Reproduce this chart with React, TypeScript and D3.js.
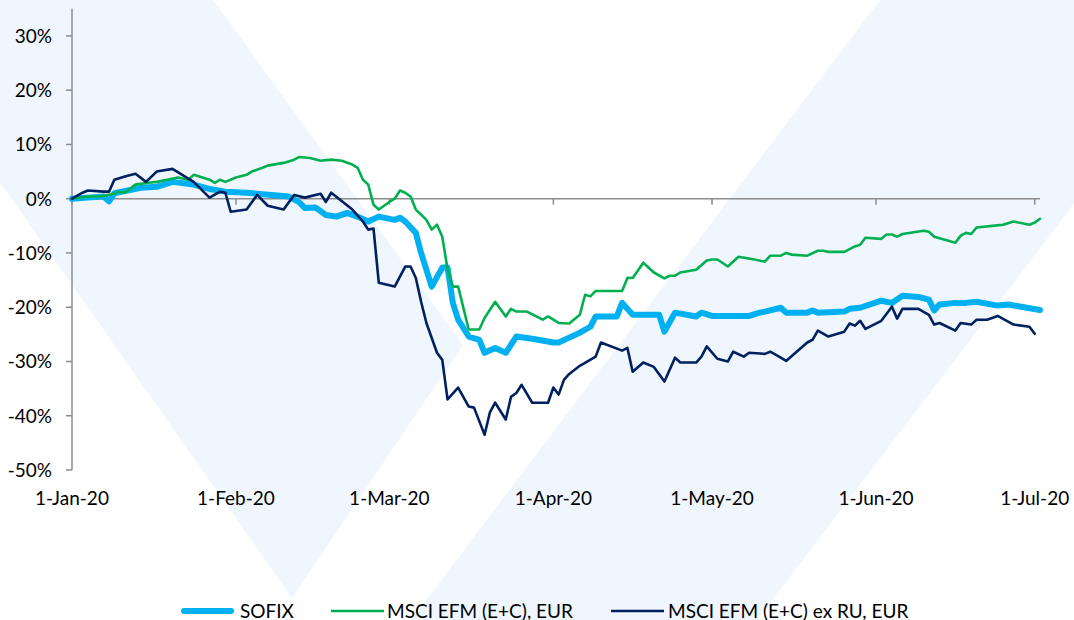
import React from "react";
import * as d3 from "d3";

const W = 1074;
const H = 620;

const xTickDates = ["2020-01-01", "2020-02-01", "2020-03-01", "2020-04-01", "2020-05-01", "2020-06-01", "2020-07-01"];
const yTickValues = [30, 20, 10, 0, -10, -20, -30, -40, -50];
const seriesNames = ["SOFIX", "MSCI EFM (E+C), EUR", "MSCI EFM (E+C) ex RU, EUR"];
const seriesColors = ["#00B0F0", "#00B050", "#002060"];
const seriesWidths = [6, 2.6, 2.6];

// [MM-DD of 2020, % change]
const sofix: [string, number][] = [
  ["01-01", 0], ["01-04", 0.2], ["01-07", 0.4], ["01-08", -0.5], ["01-09", 1.0], ["01-14", 2.0], ["01-17", 2.2],
  ["01-20", 3.1], ["01-24", 2.6], ["01-27", 1.8], ["01-30", 1.3], ["02-03", 1.1], ["02-11", 0.4], ["02-13", -0.7],
  ["02-14", -1.7], ["02-16", -1.6], ["02-18", -3.0], ["02-20", -3.3], ["02-22", -2.6], ["02-24", -3.3], ["02-26", -4.2],
  ["02-28", -3.3], ["03-02", -3.9], ["03-03", -3.5], ["03-04", -4.2], ["03-06", -6.3], ["03-07", -10], ["03-09", -16.2],
  ["03-11", -12.7], ["03-12", -12.7], ["03-13", -19.2], ["03-14", -22.3], ["03-16", -25.4], ["03-18", -26],
  ["03-19", -28.4], ["03-21", -27.5], ["03-23", -28.4], ["03-25", -25.4], ["03-28", -25.8], ["04-01", -26.5],
  ["04-02", -26.5], ["04-04", -25.6], ["04-06", -24.7], ["04-08", -23.6], ["04-09", -21.7], ["04-13", -21.7],
  ["04-14", -19.2], ["04-16", -21.4], ["04-21", -21.4], ["04-22", -24.5], ["04-24", -21], ["04-28", -21.7],
  ["04-29", -21], ["05-01", -21.6], ["05-08", -21.6], ["05-10", -21], ["05-11", -20.8], ["05-14", -20.1],
  ["05-15", -21], ["05-19", -21], ["05-20", -20.6], ["05-21", -21], ["05-26", -20.8], ["05-27", -20.3],
  ["05-29", -20.1], ["06-02", -18.8], ["06-04", -19.2], ["06-06", -17.9], ["06-09", -18.1], ["06-11", -18.6],
  ["06-12", -20.6], ["06-13", -19.5], ["06-16", -19.2], ["06-18", -19.2], ["06-20", -19], ["06-24", -19.7],
  ["06-26", -19.5], ["07-02", -20.5],
];

const msciEfm: [string, number][] = [
  ["01-01", 0], ["01-04", 0.4], ["01-06", 0.4], ["01-08", 0.7], ["01-10", 1.3], ["01-11", 1.1], ["01-13", 2.6],
  ["01-15", 2.9], ["01-17", 3.1], ["01-19", 3.5], ["01-21", 3.9], ["01-23", 3.5], ["01-24", 4.4], ["01-27", 3.5],
  ["01-28", 2.9], ["01-29", 3.5], ["01-30", 3.1], ["02-01", 3.9], ["02-03", 4.4], ["02-04", 5.0], ["02-06", 5.7],
  ["02-07", 6.1], ["02-10", 6.6], ["02-12", 7.2], ["02-13", 7.7], ["02-15", 7.5], ["02-17", 7.0], ["02-19", 7.2],
  ["02-21", 7.0], ["02-23", 6.3], ["02-24", 5.7], ["02-25", 3.5], ["02-26", 2.6], ["02-27", -1.1], ["02-28", -2.0],
  ["03-01", -0.6], ["03-02", 0], ["03-03", 1.5], ["03-04", 1.1], ["03-05", 0.4], ["03-06", -2.0], ["03-08", -3.9],
  ["03-09", -5.7], ["03-10", -4.8], ["03-11", -7.0], ["03-12", -13], ["03-13", -16.2], ["03-14", -16.2],
  ["03-16", -24.1], ["03-18", -24.1], ["03-19", -22], ["03-21", -19], ["03-23", -21.7], ["03-24", -20.3],
  ["03-25", -20.8], ["03-27", -20.8], ["03-30", -22.3], ["03-31", -21.7], ["04-02", -22.9], ["04-04", -23],
  ["04-06", -21.4], ["04-07", -17.7], ["04-08", -18], ["04-09", -17], ["04-14", -17], ["04-15", -14.6],
  ["04-16", -14.6], ["04-18", -11.8], ["04-20", -13.6], ["04-22", -14.7], ["04-23", -14.2], ["04-24", -14.2],
  ["04-25", -13.6], ["04-28", -13.1], ["04-30", -11.4], ["05-01", -11.2], ["05-02", -11.2], ["05-04", -12.5],
  ["05-06", -10.7], ["05-09", -11.2], ["05-11", -11.6], ["05-12", -10.5], ["05-14", -10.5], ["05-15", -10],
  ["05-16", -10.3], ["05-19", -10.5], ["05-21", -9.6], ["05-22", -9.6], ["05-23", -9.8], ["05-26", -9.8],
  ["05-28", -8.8], ["05-29", -8.5], ["05-30", -7.2], ["06-02", -7.4], ["06-03", -6.6], ["06-04", -6.6],
  ["06-05", -7], ["06-06", -6.5], ["06-10", -5.9], ["06-11", -6.1], ["06-12", -7], ["06-16", -8.1], ["06-17", -6.8],
  ["06-18", -6.3], ["06-19", -6.5], ["06-20", -5.3], ["06-23", -5], ["06-25", -4.8], ["06-27", -4.2],
  ["06-30", -4.8], ["07-01", -4.4], ["07-02", -3.7],
];

const msciExRu: [string, number][] = [
  ["01-01", 0], ["01-03", 1.1], ["01-04", 1.5], ["01-07", 1.3], ["01-08", 1.3], ["01-09", 3.5], ["01-11", 4.1],
  ["01-13", 4.6], ["01-15", 3.1], ["01-17", 5.0], ["01-20", 5.5], ["01-23", 3.7], ["01-24", 3.1], ["01-27", 0.2],
  ["01-29", 1.3], ["01-30", 1.1], ["01-31", -2.4], ["02-03", -2.0], ["02-05", 0.7], ["02-07", -1.3], ["02-10", -2.0],
  ["02-12", 0.7], ["02-14", 0.2], ["02-17", 0.9], ["02-18", -0.6], ["02-19", 1.1], ["02-23", -2.0], ["02-25", -4.2],
  ["02-26", -5.7], ["02-27", -5.5], ["02-28", -15.5], ["03-02", -16.2], ["03-04", -12.5], ["03-05", -12.5],
  ["03-06", -14.6], ["03-07", -19], ["03-08", -22.9], ["03-10", -28.4], ["03-11", -29.7], ["03-12", -37],
  ["03-14", -34.8], ["03-16", -38.3], ["03-17", -38.5], ["03-19", -43.5], ["03-20", -39.4], ["03-21", -37.6],
  ["03-23", -40.7], ["03-24", -36.5], ["03-25", -35.8], ["03-26", -34.3], ["03-28", -37.6], ["03-31", -37.6],
  ["04-01", -34.8], ["04-02", -36.1], ["04-03", -33.4], ["04-04", -32.3], ["04-06", -30.8], ["04-09", -29.1],
  ["04-10", -26.5], ["04-14", -28], ["04-15", -27.5], ["04-16", -31.9], ["04-18", -30.2], ["04-20", -31],
  ["04-22", -33.7], ["04-24", -29.3], ["04-25", -30.2], ["04-28", -30.2], ["04-29", -29.1], ["04-30", -27.2],
  ["05-02", -29.5], ["05-04", -30], ["05-05", -28.2], ["05-07", -29.1], ["05-08", -28.4], ["05-11", -28.6],
  ["05-12", -28.2], ["05-14", -29.3], ["05-15", -29.9], ["05-19", -26.5], ["05-20", -26], ["05-21", -24.3],
  ["05-23", -25.4], ["05-26", -24.5], ["05-27", -23], ["05-28", -23.4], ["05-29", -22.5], ["05-30", -24],
  ["06-02", -22.5], ["06-04", -19.9], ["06-05", -22.1], ["06-06", -20.3], ["06-09", -20.3], ["06-11", -21.4],
  ["06-12", -23.2], ["06-13", -22.9], ["06-16", -24.3], ["06-17", -22.9], ["06-19", -23.2], ["06-20", -22.3],
  ["06-22", -22.3], ["06-24", -21.6], ["06-27", -23.2], ["06-30", -23.6], ["07-01", -24.9],
];

const allSeries = [sofix, msciEfm, msciExRu];

const FONT = "Lato, 'Open Sans', sans-serif";
const AXIS = "#8c8c8c";
const WATERMARK = "#EFF6FD";

export default function App() {
  const parse = d3.timeParse("%Y-%m-%d");
  const x = d3
    .scaleTime()
    .domain([parse("2020-01-01") as Date, parse("2020-07-02") as Date])
    .range([72, 1040]);
  const y = d3.scaleLinear().domain([-50, 35]).range([470, 8.8]);
  const fmt = d3.timeFormat("%-d-%b-%y");
  const line = d3
    .line<[string, number]>()
    .x((d) => x(parse("2020-" + d[0]) as Date))
    .y((d) => y(d[1]))
    .curve(d3.curveLinear);

  const y0 = y(0);
  const [xMin, xMax] = x.range();
  const [yBottom, yTop] = y.range();

  const legendItems = [
    { lx: 181, tx: 240 },
    { lx: 331, tx: 387 },
    { lx: 611, tx: 668 },
  ];

  return (
    <svg
      width={W}
      height={H}
      style={{ position: "absolute", left: 0, top: 0, background: "#fff" }}
    >
      {/* watermark */}
      <polygon points="-128,0 213,0 463,345 292,598" fill={WATERMARK} />
      <polygon points="880,0 1229,0 757,620 411,620" fill={WATERMARK} />

      {/* y axis */}
      <line x1={xMin} x2={xMin} y1={yTop} y2={yBottom} stroke={AXIS} strokeWidth={1.5} />
      {yTickValues.map((v) => (
        <g key={v}>
          <line x1={xMin - 6} x2={xMin} y1={y(v)} y2={y(v)} stroke={AXIS} strokeWidth={1.5} />
          <text
            x={52}
            y={y(v)}
            dy="0.36em"
            textAnchor="end"
            fontFamily={FONT}
            fontSize={19}
            fill="#000"
          >
            {v}%
          </text>
        </g>
      ))}

      {/* x axis at 0 */}
      <line x1={xMin} x2={xMax} y1={y0} y2={y0} stroke={AXIS} strokeWidth={1.5} />
      {xTickDates.map((s) => {
        const d = parse(s) as Date;
        return (
          <g key={s}>
            <line x1={x(d)} x2={x(d)} y1={y0} y2={y0 + 6} stroke={AXIS} strokeWidth={1.5} />
            <text
              x={x(d)}
              y={498}
              dy="0.36em"
              textAnchor="middle"
              fontFamily={FONT}
              fontSize={19}
              fill="#000"
            >
              {fmt(d)}
            </text>
          </g>
        );
      })}

      {/* series */}
      {allSeries.map((data, i) => (
        <path
          key={seriesNames[i]}
          d={line(data) || ""}
          fill="none"
          stroke={seriesColors[i]}
          strokeWidth={seriesWidths[i]}
          strokeLinejoin="round"
          strokeLinecap="round"
        />
      ))}

      {/* legend */}
      {seriesNames.map((name, i) => (
        <g key={name}>
          <line
            x1={legendItems[i].lx + (i === 0 ? 3 : 0)}
            x2={legendItems[i].lx + 53 - (i === 0 ? 3 : 0)}
            y1={611}
            y2={611}
            stroke={seriesColors[i]}
            strokeWidth={seriesWidths[i]}
            strokeLinecap={i === 0 ? "round" : "butt"}
          />
          <text x={legendItems[i].tx} y={617.5} fontFamily={FONT} fontSize={19} fill="#000">
            {name}
          </text>
        </g>
      ))}
    </svg>
  );
}
